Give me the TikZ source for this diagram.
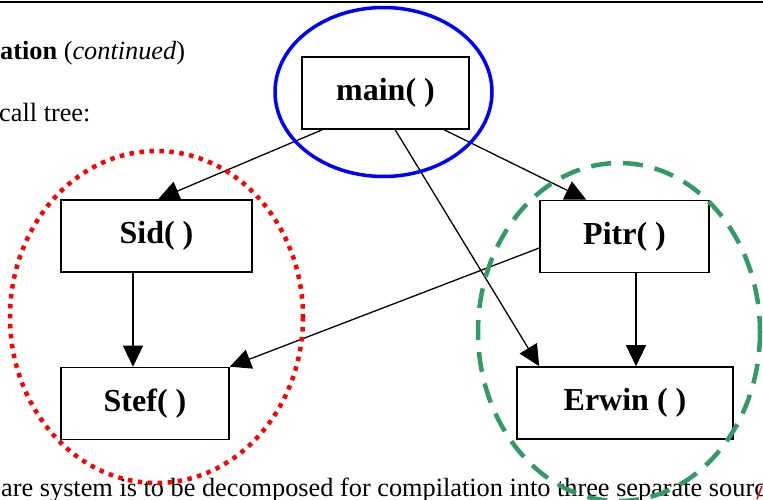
\documentclass[tikz,border=0pt]{standalone}
\usepackage{fontspec}
\setmainfont{Liberation Serif}
\usetikzlibrary{arrows.meta}
\definecolor{groupgreen}{RGB}{51,153,102}
\tikzset{
  fnbox/.style={draw, line width=1.6pt, fill=white, minimum height=72pt,
    inner sep=0pt, font=\fontsize{32}{36}\selectfont\bfseries},
  call/.style={line width=1.3pt, -{Triangle[length=21pt,width=20pt]}},
  bodytext/.style={anchor=base west, inner sep=0pt, font=\fontsize{26.3}{30}\selectfont},
  groupA/.style={draw=blue, line width=3.5pt},
  groupB/.style={draw=red, line width=4.5pt, dash pattern=on 4.5pt off 5.5pt},
  groupC/.style={draw=groupgreen, line width=4.5pt, dash pattern=on 20pt off 12pt}
}
\begin{document}
\begin{tikzpicture}[x=1pt,y=-1pt]
  \useasboundingbox (0,0) rectangle (763,500);
  \clip (0,0) rectangle (763,500);

  % page rule and surrounding text
  \draw[line width=2.5pt] (0,2) -- (763,2);
  \node[bodytext] (head) at (0,60) {\textbf{ation} (\textit{continued})};
  \node[bodytext] (intro) at (-1,122) {call tree:};
  \node[bodytext] (para) at (1,496) {are system is to be decomposed for compilation into three separate sourc};

  % functions of the call tree
  \node[fnbox, minimum width=167pt] (main)  at (385.5,93)  {main( )};
  \node[fnbox, minimum width=191pt] (sid)   at (156.5,236) {Sid( )};
  \node[fnbox, minimum width=168pt] (stef)  at (145,403.5) {Stef( )};
  \node[fnbox, minimum width=169pt] (pitr)  at (624.5,236.5) {Pitr( )};
  \node[fnbox, minimum width=216pt] (erwin) at (625,403)   {Erwin ( )};

  % calls
  \draw[call] ([xshift=21pt]main.south west) -- ([xshift=98pt]sid.north west);
  \draw[call] ([xshift=143pt]main.south west) -- ([xshift=47pt]pitr.north west);
  \draw[call] ([xshift=94pt]main.south west) -- ([xshift=23pt]erwin.north west);
  \draw[call] ([yshift=-11.5pt]pitr.west) -- (stef.north east);
  \draw[call] ([xshift=-23.5pt]sid.south) -- ([xshift=-23.5pt]sid.south |- stef.north);
  \draw[call] ([xshift=11.5pt]pitr.south) -- ([xshift=11.5pt]pitr.south |- erwin.north);

  % source file groupings
  \draw[groupA] (383.5,92) ellipse [x radius=108.5, y radius=84.5];
  \draw[groupB] (156.5,317) ellipse [x radius=146.5, y radius=166];
  \draw[groupC] (619,332) ellipse [x radius=141, y radius=169];
  \draw[red, line width=1.5pt] (757,499) -- (762,486);
\end{tikzpicture}
\end{document}
